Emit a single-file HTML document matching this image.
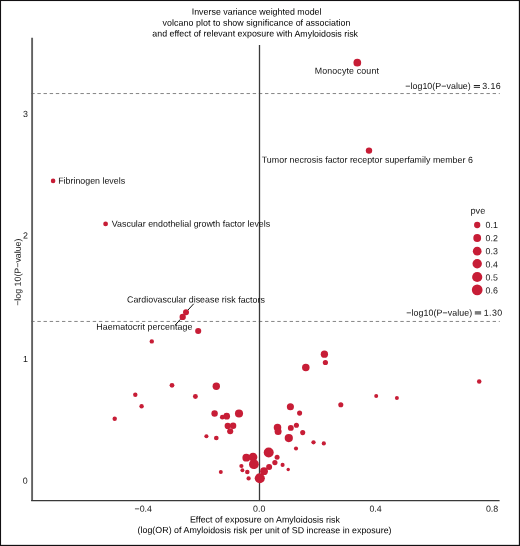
<!DOCTYPE html>
<html><head><meta charset="utf-8"><style>
html,body{margin:0;padding:0;background:#fff;}
svg{display:block;}
text{font-family:"Liberation Sans",sans-serif;font-size:8.85px;}
</style></head><body>
<svg width="520" height="546" viewBox="0 0 520 546" style="will-change:transform">
<g>
<g stroke="#858585" stroke-width="1" stroke-dasharray="3.4 2.752" fill="none">
<line x1="31.23" y1="93.55" x2="499.8" y2="93.55"/>
<line x1="31.23" y1="321.45" x2="499.8" y2="321.45"/>
</g>
<line x1="259.5" y1="45.1" x2="259.5" y2="500" stroke="#3a3a3a" stroke-width="1.3"/>
<line x1="32.1" y1="37.8" x2="32.1" y2="501.1" stroke="#616161" stroke-width="1.9"/>
<line x1="31.2" y1="500.6" x2="499.6" y2="500.6" stroke="#383838" stroke-width="1.4"/>
<g stroke="#111" stroke-width="1">
<line x1="193.7" y1="303.8" x2="187.9" y2="310.1"/>
<line x1="180.5" y1="319.2" x2="175.2" y2="325.1"/>
</g>
<g fill="#C71D36">
<circle cx="357.3" cy="62.7" r="3.85"/>
<circle cx="369.0" cy="150.6" r="3.20"/>
<circle cx="53.1" cy="180.9" r="2.30"/>
<circle cx="105.6" cy="223.9" r="2.40"/>
<circle cx="186.0" cy="312.3" r="3.00"/>
<circle cx="182.7" cy="316.9" r="3.15"/>
<circle cx="198.2" cy="331.0" r="3.05"/>
<circle cx="151.8" cy="341.4" r="2.20"/>
<circle cx="172.0" cy="385.3" r="2.40"/>
<circle cx="135.3" cy="394.8" r="2.20"/>
<circle cx="141.6" cy="406.2" r="2.20"/>
<circle cx="114.7" cy="418.8" r="2.20"/>
<circle cx="195.4" cy="396.5" r="2.45"/>
<circle cx="216.3" cy="386.2" r="3.70"/>
<circle cx="214.6" cy="413.5" r="3.20"/>
<circle cx="222.3" cy="417.2" r="2.35"/>
<circle cx="226.7" cy="416.2" r="3.35"/>
<circle cx="239.0" cy="413.5" r="4.05"/>
<circle cx="227.7" cy="425.9" r="3.10"/>
<circle cx="233.1" cy="425.8" r="3.20"/>
<circle cx="230.2" cy="431.2" r="3.05"/>
<circle cx="206.4" cy="436.2" r="2.05"/>
<circle cx="216.3" cy="438.0" r="2.35"/>
<circle cx="220.8" cy="472.1" r="2.00"/>
<circle cx="246.3" cy="457.7" r="3.90"/>
<circle cx="253.0" cy="457.1" r="4.35"/>
<circle cx="253.9" cy="464.2" r="4.90"/>
<circle cx="241.4" cy="466.0" r="2.10"/>
<circle cx="242.4" cy="470.2" r="1.95"/>
<circle cx="247.3" cy="472.0" r="2.25"/>
<circle cx="248.6" cy="478.4" r="2.15"/>
<circle cx="259.8" cy="478.3" r="5.05"/>
<circle cx="264.0" cy="471.2" r="3.90"/>
<circle cx="269.1" cy="466.9" r="3.00"/>
<circle cx="274.9" cy="462.6" r="2.60"/>
<circle cx="282.6" cy="464.9" r="2.05"/>
<circle cx="288.2" cy="469.5" r="1.70"/>
<circle cx="268.7" cy="452.5" r="5.00"/>
<circle cx="277.1" cy="457.2" r="2.50"/>
<circle cx="290.4" cy="406.7" r="3.55"/>
<circle cx="299.6" cy="413.1" r="2.55"/>
<circle cx="277.5" cy="427.6" r="3.75"/>
<circle cx="278.1" cy="431.5" r="3.50"/>
<circle cx="290.8" cy="427.9" r="2.95"/>
<circle cx="296.4" cy="425.3" r="2.55"/>
<circle cx="302.7" cy="432.6" r="2.55"/>
<circle cx="288.8" cy="438.1" r="4.10"/>
<circle cx="313.5" cy="442.3" r="2.15"/>
<circle cx="323.8" cy="443.4" r="2.10"/>
<circle cx="296.0" cy="448.5" r="2.05"/>
<circle cx="324.4" cy="354.2" r="3.65"/>
<circle cx="325.4" cy="362.5" r="2.60"/>
<circle cx="305.8" cy="367.6" r="3.75"/>
<circle cx="340.8" cy="404.8" r="2.55"/>
<circle cx="376.2" cy="396.0" r="2.00"/>
<circle cx="396.9" cy="398.1" r="2.00"/>
<circle cx="479.2" cy="381.5" r="2.25"/>
</g>
</g>
<g transform="matrix(1 0.001 0 1 0 -0.2566)"><text id="t1" x="191.72" y="14.7" fill="#000" textLength="129.76" lengthAdjust="spacing">Inverse variance weighted model</text></g>
<g transform="matrix(1 0.001 0 1 0 -0.2565)"><text id="t2" x="162.59" y="25.75" fill="#000" textLength="187.84" lengthAdjust="spacing">volcano plot to show significance of association</text></g>
<g transform="matrix(1 0.001 0 1 0 -0.2552)"><text id="t3" x="152.32" y="36.6" fill="#000" textLength="205.72" lengthAdjust="spacing">and effect of relevant exposure with Amyloidosis risk</text></g>
<g transform="matrix(1 0.001 0 1 0 -0.3468)"><text id="mono" x="314.69" y="73.7" fill="#111" textLength="64.25" lengthAdjust="spacing">Monocyte count</text></g>
<g transform="matrix(1 0.001 0 1 0 -0.3673)"><text id="tnf" x="261.79" y="162.8" fill="#111" textLength="211.10" lengthAdjust="spacing">Tumor necrosis factor receptor superfamily member 6</text></g>
<g transform="matrix(1 0.001 0 1 0 -0.0916)"><text id="fib" x="58.18" y="183.8" fill="#111" textLength="66.90" lengthAdjust="spacing">Fibrinogen levels</text></g>
<g transform="matrix(1 0.001 0 1 0 -0.1910)"><text id="vegf" x="111.84" y="226.8" fill="#111" textLength="158.33" lengthAdjust="spacing">Vascular endothelial growth factor levels</text></g>
<g transform="matrix(1 0.001 0 1 0 -0.1959)"><text id="cvd" x="127.03" y="302.6" fill="#111" textLength="137.80" lengthAdjust="spacing">Cardiovascular disease risk factors</text></g>
<g transform="matrix(1 0.001 0 1 0 -0.1444)"><text id="hae" x="96.33" y="329.8" fill="#111" textLength="96.21" lengthAdjust="spacing">Haematocrit percentage</text></g>
<g transform="matrix(1 0.001 0 1 0 -0.4380)"><text id="thr1a" x="405.25" y="89.0" fill="#111" textLength="65.54" lengthAdjust="spacing">−log10(P−value)</text></g>
<g transform="matrix(1 0.001 0 1 0 -0.4915)"><text id="thr1b" x="482.21" y="89.0" fill="#111" textLength="18.52" lengthAdjust="spacing">3.16</text></g>
<g transform="matrix(1 0.001 0 1 0 -0.4393)"><text id="thr2a" x="406.33" y="315.8" fill="#111" textLength="65.91" lengthAdjust="spacing">−log10(P−value)</text></g>
<g transform="matrix(1 0.001 0 1 0 -0.4929)"><text id="thr2b" x="483.76" y="315.8" fill="#111" textLength="18.35" lengthAdjust="spacing">1.30</text></g>
<g transform="matrix(1 0.001 0 1 0 -0.2649)"><text id="xl1" x="189.92" y="522.6" fill="#000" textLength="149.94" lengthAdjust="spacing">Effect of exposure on Amyloidosis risk</text></g>
<g transform="matrix(1 0.001 0 1 0 -0.2645)"><text id="xl2" x="137.53" y="533.2" fill="#000" textLength="254.02" lengthAdjust="spacing">(log(OR) of Amyloidosis risk per unit of SD increase in exposure)</text></g>
<g fill="#1a1a1a">
<rect x="473.8" y="85.05" width="6.2" height="0.95"/>
<rect x="473.8" y="86.85" width="6.2" height="0.95"/>
</g>
<rect x="474.8" y="311.1" width="6.3" height="3.5" fill="#7a7a7a"/>
<g fill="#1a1a1a" text-anchor="middle" style="font-size:9.1px">
<g transform="matrix(1 0.001 0 1 0 -0.0254)"><text x="25.4" y="116.9">3</text></g>
<g transform="matrix(1 0.001 0 1 0 -0.0254)"><text x="25.4" y="238.5">2</text></g>
<g transform="matrix(1 0.001 0 1 0 -0.0254)"><text x="25.4" y="361.9">1</text></g>
<g transform="matrix(1 0.001 0 1 0 -0.0254)"><text x="25.35" y="483.7">0</text></g>
<g transform="matrix(1 0.001 0 1 0 -0.1433)"><text x="143.25" y="511.7">−0.4</text></g>
<g transform="matrix(1 0.001 0 1 0 -0.2591)"><text x="259.15" y="511.7">0.0</text></g>
<g transform="matrix(1 0.001 0 1 0 -0.3755)"><text x="375.55" y="511.7">0.4</text></g>
<g transform="matrix(1 0.001 0 1 0 -0.4921)"><text x="492.05" y="511.7">0.8</text></g>
</g>
<g fill="#1a1a1a" text-anchor="middle">
<g transform="matrix(1 0 0.001 1 -0.272 0)"><text transform="translate(20.8 272.2) rotate(-90)">−log 10(P−value)</text></g>
</g>
<g transform="matrix(1 0.001 0 1 0 -0.4780)"><text x="470.5" y="213.85" fill="#1a1a1a" style="font-size:9.2px">pve</text></g>
<g>
<g fill="#C71D36">
<circle cx="477.2" cy="225.0" r="3.15"/>
<circle cx="477.2" cy="238.0" r="3.90"/>
<circle cx="477.2" cy="251.2" r="4.35"/>
<circle cx="477.2" cy="263.8" r="4.70"/>
<circle cx="477.2" cy="277.0" r="5.10"/>
<circle cx="477.2" cy="289.9" r="5.35"/>
</g>
</g>
<g fill="#1a1a1a" style="font-size:9.1px">
<g transform="matrix(1 0.001 0 1 0 -0.4910)"><text x="485.6" y="228.1">0.1</text></g>
<g transform="matrix(1 0.001 0 1 0 -0.4910)"><text x="485.6" y="241.2">0.2</text></g>
<g transform="matrix(1 0.001 0 1 0 -0.4910)"><text x="485.6" y="254.3">0.3</text></g>
<g transform="matrix(1 0.001 0 1 0 -0.4910)"><text x="485.6" y="267.4">0.4</text></g>
<g transform="matrix(1 0.001 0 1 0 -0.4910)"><text x="485.6" y="280.5">0.5</text></g>
<g transform="matrix(1 0.001 0 1 0 -0.4910)"><text x="485.6" y="293.6">0.6</text></g>
</g>
<g fill="#121012">
<rect x="0" y="0" width="520" height="1.05"/>
<rect x="0" y="0" width="1.05" height="546"/>
<rect x="518.85" y="0" width="1.15" height="546"/>
<rect x="0" y="544.85" width="520" height="1.15"/>
</g>
</svg>
</body></html>
